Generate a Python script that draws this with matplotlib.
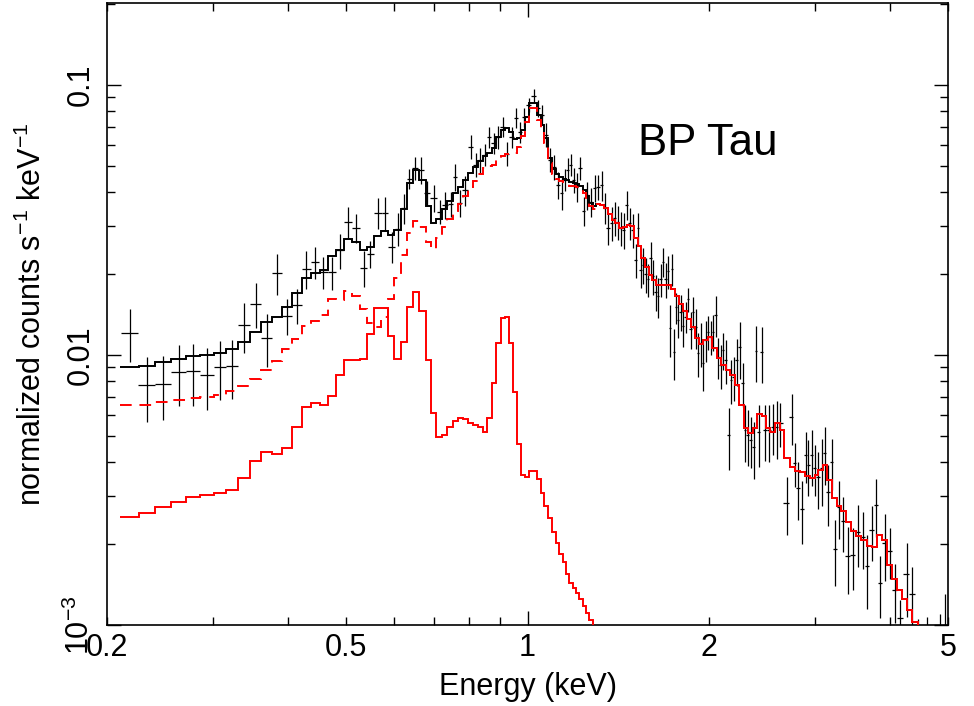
import numpy as np
import matplotlib.pyplot as plt
from matplotlib.ticker import FixedLocator, FuncFormatter, LogLocator, NullFormatter

plt.rcParams['font.family'] = ['Liberation Sans', 'DejaVu Sans']
plt.rcParams['mathtext.fontset'] = 'custom'
plt.rcParams['mathtext.rm'] = 'Liberation Sans'
plt.rcParams['mathtext.it'] = 'Liberation Sans:italic'

# observed spectrum: bin centre (keV), rate, 1-sigma error
e_data = [0.2180, 0.2331, 0.2478, 0.2630, 0.2780, 0.2933, 0.3082, 0.3227, 0.3379, 0.3531,
          0.3683, 0.3834, 0.3983, 0.4139, 0.4284, 0.4434, 0.4571, 0.4732, 0.4879, 0.5030,
          0.5187, 0.5348, 0.5472, 0.5643, 0.5795, 0.5953, 0.6091, 0.6233, 0.6353, 0.6501,
          0.6652, 0.6806, 0.6991, 0.7153, 0.7292, 0.7461, 0.7576, 0.7722, 0.7871, 0.8054,
          0.8210, 0.8336, 0.8497, 0.8629, 0.8795, 0.8931, 0.9103, 0.9244, 0.9422, 0.9567,
          0.9715, 0.9864, 1.0056, 1.0249, 1.0408, 1.0568, 1.0732, 1.0897, 1.1065, 1.1236,
          1.1409, 1.1541, 1.1675, 1.1809, 1.1945, 1.2083, 1.2222, 1.2411, 1.2555, 1.2748,
          1.2944, 1.3094, 1.3296, 1.3449, 1.3605, 1.3815, 1.3974, 1.4136, 1.4299, 1.4463,
          1.4631, 1.4800, 1.4971, 1.5144, 1.5260, 1.5436, 1.5554, 1.5735, 1.5856, 1.6038,
          1.6161, 1.6348, 1.6474, 1.6664, 1.6791, 1.6986, 1.7116, 1.7248, 1.7380, 1.7513,
          1.7648, 1.7784, 1.7989, 1.8126, 1.8337, 1.8478, 1.8690, 1.8833, 1.9052, 1.9198,
          1.9420, 1.9567, 1.9795, 1.9947, 2.0177, 2.0331, 2.0567, 2.0725, 2.0964, 2.1124,
          2.1369, 2.1616, 2.1781, 2.2033, 2.2288, 2.2545, 2.2803, 2.2980, 2.3246, 2.3513,
          2.3785, 2.3969, 2.4246, 2.4526, 2.4808, 2.5191, 2.5578, 2.5974, 2.6273, 2.6987,
          2.7508, 2.7826, 2.8148, 2.8581, 2.9011, 2.9246, 2.9696, 3.0038, 3.0386, 3.0854,
          3.1210, 3.1572, 3.2058, 3.2428, 3.2929, 3.3435, 3.4082, 3.4738, 3.5411, 3.6093,
          3.6652, 3.7360, 3.7936, 3.8521, 3.9265, 4.0023, 4.0796, 4.1583, 4.2714, 4.3537,
          4.455, 4.611, 4.846, 4.94]
f_data = [0.0121, 0.00775, 0.00782, 0.00868, 0.00875, 0.00844, 0.00906, 0.00911, 0.01289, 0.01549,
          0.0116, 0.0202, 0.0140, 0.01527, 0.02088, 0.02216, 0.02024, 0.02024, 0.0245, 0.0312,
          0.02963, 0.02105, 0.0237, 0.03367, 0.03367, 0.02517, 0.02938, 0.03509, 0.04494, 0.04932,
          0.0485, 0.03987, 0.03821, 0.03396, 0.0360, 0.03631, 0.04571, 0.03662, 0.04092, 0.05898,
          0.0506, 0.05281, 0.0551, 0.06429, 0.06103, 0.06429, 0.0700, 0.05557, 0.06429, 0.07554,
          0.0671, 0.07618, 0.0844, 0.09102, 0.08226, 0.0775, 0.0654, 0.05281, 0.04974, 0.0427,
          0.03987, 0.04457, 0.0485, 0.0506, 0.04457, 0.04197, 0.04932, 0.03425, 0.0392, 0.03694,
          0.04162, 0.04197, 0.0427, 0.03509, 0.02963, 0.03092, 0.03226, 0.0312, 0.02963, 0.02912,
          0.0360, 0.03092, 0.02912, 0.02252, 0.02963, 0.0207, 0.0216, 0.0199, 0.01907, 0.02291,
          0.01956, 0.01715, 0.01651, 0.01907, 0.02216, 0.01907, 0.02042, 0.01257, 0.02088, 0.01026,
          0.01501, 0.01351, 0.01447, 0.01278, 0.01386, 0.0161, 0.01246, 0.01447, 0.01267, 0.01017,
          0.01109, 0.00935, 0.01138, 0.01221, 0.0117, 0.01221, 0.0141, 0.00983, 0.00919, 0.01044,
          0.00958, 0.00506, 0.00809, 0.0083, 0.00958, 0.01072, 0.00788, 0.00528, 0.00506, 0.00485,
          0.00457, 0.01035, 0.00519, 0.01026, 0.00528, 0.00528, 0.00542, 0.00542, 0.0056, 0.00284,
          0.0059, 0.00399, 0.00323, 0.0027, 0.00427, 0.00392, 0.00427, 0.00382, 0.00354, 0.00382,
          0.00434, 0.00312, 0.00402, 0.00192, 0.00274, 0.00243, 0.0018, 0.00182, 0.00221, 0.00212,
          0.00165, 0.00225, 0.00279, 0.00143, 0.00202, 0.00188, 0.00135, 0.00106, 0.00154, 0.0013,
          0.0009, 0.00085, 0.0008, 0.0009]
f_err = [0.00266, 0.00212, 0.00209, 0.00223, 0.00226, 0.00217, 0.00225, 0.00226, 0.00269, 0.00291,
         0.00255, 0.00352, 0.00215, 0.00222, 0.00338, 0.00302, 0.00273, 0.00283, 0.0036, 0.0041,
         0.00375, 0.00323, 0.00275, 0.00443, 0.00484, 0.00333, 0.00404, 0.00448, 0.0038, 0.00469,
         0.00537, 0.00429, 0.00439, 0.00353, 0.00408, 0.00391, 0.00537, 0.00425, 0.00516, 0.00602,
         0.00517, 0.00559, 0.00513, 0.00576, 0.00553, 0.00636, 0.00595, 0.00565, 0.00581, 0.00643,
         0.00601, 0.00613, 0.00532, 0.0054, 0.0059, 0.0066, 0.00672, 0.00539, 0.00527, 0.00475,
         0.00531, 0.00414, 0.00495, 0.0047, 0.00473, 0.00507, 0.0048, 0.00433, 0.00464, 0.00454,
         0.00478, 0.00447, 0.0055, 0.00453, 0.00406, 0.00451, 0.00471, 0.00456, 0.00433, 0.00448,
         0.00432, 0.00424, 0.00425, 0.00329, 0.00406, 0.00302, 0.00333, 0.00291, 0.00261, 0.00334,
         0.00286, 0.00264, 0.00282, 0.00261, 0.00266, 0.00278, 0.0028, 0.0027, 0.00286, 0.00221,
         0.00194, 0.00197, 0.00223, 0.00207, 0.00179, 0.00165, 0.00192, 0.00187, 0.00217, 0.00191,
         0.00208, 0.00201, 0.00195, 0.00178, 0.00171, 0.00188, 0.00241, 0.00168, 0.00173, 0.00161,
         0.0018, 0.00131, 0.00152, 0.00156, 0.00189, 0.00258, 0.00148, 0.00127, 0.00117, 0.00104,
         0.0011, 0.0024, 0.00134, 0.00238, 0.00122, 0.00127, 0.00117, 0.00131, 0.00105, 0.00068,
         0.00127, 0.00075, 0.00078, 0.0007, 0.00092, 0.00091, 0.00099, 0.00082, 0.00085, 0.00106,
         0.00105, 0.0008, 0.00086, 0.00053, 0.00066, 0.00056, 0.0005, 0.00047, 0.00057, 0.00051,
         0.0005, 0.00052, 0.00067, 0.00037, 0.00056, 0.0004, 0.00033, 0.00018, 0.00047, 0.00034,
         0.00015, 0.00022, 0.0003, 0.0004]

# model binning (keV)
edges = [0.2102, 0.2261, 0.2404, 0.2556, 0.2707, 0.2856, 0.3012, 0.3154, 0.3303, 0.3457,
         0.3606, 0.3761, 0.3908,
         0.4060, 0.4219, 0.4366, 0.4520, 0.4660, 0.4805, 0.4954, 0.5108, 0.5267, 0.5410,
         0.5557, 0.5708, 0.5862, 0.5999, 0.6162, 0.6305, 0.6451, 0.6601, 0.6780, 0.6911,
         0.7045, 0.7209, 0.7348, 0.7518, 0.7663, 0.7811, 0.7962, 0.8116, 0.8273, 0.8433,
         0.8563, 0.8728, 0.8863, 0.9034, 0.9173, 0.9315, 0.9458, 0.9604, 0.9752, 0.9903,
         1.0056, 1.0210, 1.0368, 1.0528, 1.0650, 1.0814, 1.0981, 1.1150, 1.1279, 1.1453,
         1.1586, 1.1719, 1.1899, 1.2037, 1.2176, 1.2364, 1.2507, 1.2651, 1.2846, 1.2994,
         1.3195, 1.3398, 1.3605, 1.3815, 1.3975, 1.4190, 1.4409, 1.4631, 1.4800, 1.5028,
         1.5260, 1.5437, 1.5675, 1.5916, 1.6100, 1.6348, 1.6600, 1.6792, 1.7051, 1.7314,
         1.7581, 1.7852, 1.8127, 1.8407, 1.8691, 1.8979, 1.9272, 1.9569, 1.9947, 2.0255,
         2.0646, 2.0965, 2.1369, 2.1699, 2.2118, 2.2459, 2.2892, 2.3246, 2.3695, 2.4061,
         2.4526, 2.4904, 2.5288, 2.5776, 2.6274, 2.6679, 2.7299, 2.7826, 2.8364, 2.8912,
         2.9471, 3.0039, 3.0386, 3.0973, 3.1451, 3.2059, 3.2678, 3.3182, 3.3822, 3.4476,
         3.5141, 3.5820, 3.6652, 3.7360, 3.8082, 3.8818, 3.9567, 4.0331, 4.1110, 4.1904,
         4.2714, 4.3539, 4.4550, 4.5584]

# hot plasma component
hot = [0.0065, 0.0065, 0.00667, 0.00683, 0.00692, 0.00698, 0.00712, 0.00733, 0.0077, 0.00816,
       0.00882, 0.00949,
       0.0105, 0.0115, 0.0128, 0.0134, 0.0141, 0.0161, 0.0160, 0.0172, 0.0166, 0.0148,
       0.0131, 0.0127, 0.0138, 0.0161, 0.0193, 0.0235, 0.0283, 0.0314, 0.0297, 0.0261,
       0.0247, 0.0270, 0.0297, 0.0318, 0.0342, 0.0361, 0.0388, 0.0417, 0.0442, 0.0469,
       0.0494, 0.0502, 0.0506, 0.0532, 0.0545, 0.0555, 0.0560, 0.0559, 0.0591, 0.0646,
       0.0726, 0.0821, 0.0821, 0.0740, 0.0681, 0.0610, 0.0512, 0.0467, 0.0449, 0.0439,
       0.0432, 0.0430, 0.0424, 0.0421, 0.0417, 0.0411, 0.0397, 0.0378, 0.0356, 0.0347,
       0.0362, 0.0360, 0.0351, 0.0334, 0.0317, 0.0307, 0.0296, 0.0299, 0.0304, 0.0301,
       0.0272, 0.0254, 0.0229, 0.0211, 0.0197, 0.0189, 0.0182, 0.0181, 0.0181, 0.0181,
       0.0176, 0.0165, 0.0154, 0.0145, 0.0136, 0.0127, 0.0116, 0.0110, 0.0114, 0.0117,
       0.0106, 0.00975, 0.00919, 0.0088, 0.00844, 0.00775, 0.00654, 0.00537, 0.00515, 0.00537,
       0.00605, 0.00595, 0.00537, 0.00519, 0.0056, 0.00528, 0.00416, 0.00385, 0.00372, 0.00369,
       0.00357, 0.00351, 0.0036, 0.00376, 0.00392, 0.00345, 0.00296, 0.00277, 0.00265, 0.00241,
       0.00223, 0.00214, 0.00207, 0.00197, 0.00194, 0.00216, 0.00207, 0.00167, 0.00148, 0.00135,
       0.00125, 0.00114, 0.00103, 0.00094]

# cool plasma component (only the low-energy bins, it drops off the plot above ~1.3 keV)
cool = [0.00251, 0.00261, 0.00273, 0.00286, 0.00297, 0.00302, 0.00308, 0.00317, 0.0035, 0.00404,
        0.00438, 0.00431,
        0.00453, 0.00542, 0.00643, 0.00665, 0.00654, 0.00706, 0.00844, 0.00958, 0.00958, 0.00966,
        0.0120, 0.01488, 0.01488, 0.0118, 0.00966, 0.01118, 0.01501, 0.01709, 0.01459, 0.00958,
        0.0061, 0.00497, 0.00506, 0.00542, 0.0057, 0.00585, 0.0058, 0.0056, 0.00551, 0.00542,
        0.00519, 0.00585, 0.00788, 0.01109, 0.01374, 0.01386, 0.01109, 0.0073, 0.00469, 0.0036,
        0.00354, 0.00372, 0.00372, 0.00348, 0.00309, 0.00277, 0.0025, 0.00221, 0.00202, 0.00184,
        0.00171, 0.00155, 0.00143, 0.00137, 0.00131, 0.00125, 0.00118, 0.00111, 0.00104, 0.00098]

e_data = np.array(e_data)
f_data = np.array(f_data)
f_err = np.array(f_err)
edges = np.array(edges)
hot = np.array(hot)
cool = np.array(cool)

# horizontal bars of the data: half way (in log) to the neighbours
mid = np.sqrt(e_data[:-1] * e_data[1:])
lo = np.concatenate([[e_data[0] ** 2 / mid[0]], mid])
hi = np.concatenate([mid, [e_data[-1] ** 2 / mid[-1]]])
xerr = [e_data - lo, hi - e_data]

cool_full = np.zeros(len(hot))
cool_full[:len(cool)] = cool
total = hot + cool_full

fig = plt.figure(figsize=(9.74, 7.06), dpi=100)
ax = fig.add_axes([0.1099, 0.1147, 0.8634, 0.8810])

ax.errorbar(e_data, f_data, xerr=xerr, yerr=f_err, fmt='none', ecolor='black',
            elinewidth=0.9, capsize=0, zorder=2)
ax.stairs(total, edges, baseline=None, color='black', lw=1.4, zorder=3)
n_dash = 72
ax.stairs(hot[:n_dash], edges[:n_dash + 1], baseline=None, color='red', lw=1.4,
          linestyle=(0, (6, 4)), zorder=4)
ax.stairs(hot[n_dash:], edges[n_dash:], baseline=None, color='red', lw=1.4, zorder=4)
ax.stairs(cool, edges[:len(cool) + 1], baseline=None, color='red', lw=1.4, zorder=4)

ax.set_xscale('log')
ax.set_yscale('log')
ax.set_xlim(0.2, 5)
ax.set_ylim(1e-3, 0.201)

xlabels = {0.2: '0.2', 0.5: '0.5', 2.0: '2', 5.0: '5'}
ax.xaxis.set_major_locator(FixedLocator([1]))
ax.xaxis.set_major_formatter(FuncFormatter(lambda v, p: '1'))
ax.xaxis.set_minor_locator(FixedLocator([0.2, 0.3, 0.4, 0.5, 0.6, 0.7, 0.8, 0.9, 2, 3, 4, 5]))
ax.xaxis.set_minor_formatter(FuncFormatter(lambda v, p: xlabels.get(round(v, 1), '')))

ylabels = {-3: '$10^{-3}$', -2: '0.01', -1: '0.1'}
ax.yaxis.set_major_locator(LogLocator(base=10))
ax.yaxis.set_major_formatter(FuncFormatter(lambda v, p: ylabels.get(int(round(np.log10(v))), '')))
ax.yaxis.set_minor_locator(LogLocator(base=10, subs=np.arange(2, 10)))
ax.yaxis.set_minor_formatter(NullFormatter())

ax.tick_params(which='both', direction='in', top=True, right=True, width=1.0,
               labelsize=22, colors='black')
ax.tick_params(which='major', length=10)
ax.tick_params(which='minor', length=5.5)
ax.tick_params(axis='x', which='both', pad=6)
ax.tick_params(axis='y', which='major', pad=8, labelrotation=90)
plt.setp(ax.get_yticklabels(), va='center')

for s in ax.spines.values():
    s.set_linewidth(1.2)

ax.set_xlabel('Energy (keV)', fontsize=22)
ax.xaxis.set_label_coords(0.5, -0.076)
ax.set_ylabel('normalized counts s$^{-1}$ keV$^{-1}$', fontsize=22)
ax.yaxis.set_label_coords(-0.07, 0.5)

ax.text(1.99, 0.0551, 'BP Tau', fontsize=31.5, ha='center', va='baseline')

fig.savefig('out.png', dpi=100)
